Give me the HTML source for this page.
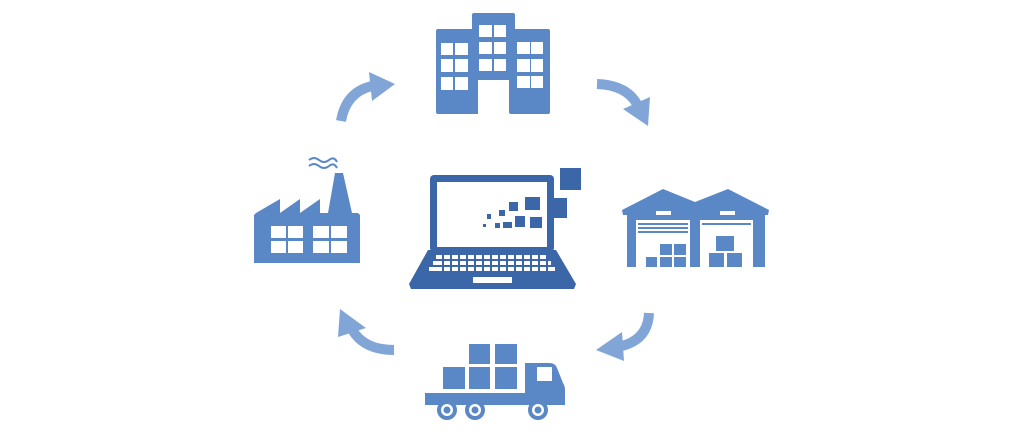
<!DOCTYPE html>
<html><head><meta charset="utf-8"><style>html,body{margin:0;padding:0;background:#fff}svg{display:block}</style></head>
<body>
<svg width="1024" height="435" viewBox="0 0 1024 435" xmlns="http://www.w3.org/2000/svg">
<rect width="1024" height="435" fill="#fff"/>
<!-- arrows -->
<g fill="#82a5d8" stroke="none">
<path d="M341,121 Q346,92 372,86" stroke="#82a5d8" stroke-width="10" fill="none"/>
<polygon points="369,72 395,84 372,101"/>
<path d="M597,84 Q626,85 637,104" stroke="#82a5d8" stroke-width="10" fill="none"/>
<polygon points="623,109 650,97 648,126"/>
<path d="M649,313 Q648,339 622,346" stroke="#82a5d8" stroke-width="10" fill="none"/>
<polygon points="622,332 596,350 624,361"/>
<path d="M394,350 Q365,350 353,331" stroke="#82a5d8" stroke-width="10" fill="none"/>
<polygon points="340,309 338,337 366,328"/>
</g>
<!-- building -->
<g fill="#5a87c6">
<rect x="436" y="29" width="44" height="85" rx="2"/>
<rect x="472" y="13" width="43" height="70" rx="2"/>
<rect x="509" y="29" width="41" height="85" rx="2"/>
<rect x="478" y="60" width="31" height="20"/>
</g>
<g fill="#fff">
<rect x="478" y="80" width="31" height="34"/>
<rect x="441" y="43" width="12" height="12"/><rect x="455" y="43" width="13" height="12"/>
<rect x="441" y="59" width="12" height="13"/><rect x="455" y="59" width="13" height="13"/>
<rect x="441" y="77" width="12" height="13"/><rect x="455" y="77" width="13" height="13"/>
<rect x="479" y="25" width="13" height="12"/><rect x="494" y="25" width="12" height="12"/>
<rect x="479" y="42" width="13" height="12"/><rect x="494" y="42" width="12" height="12"/>
<rect x="479" y="59" width="13" height="12"/><rect x="494" y="59" width="12" height="12"/>
<rect x="517" y="42" width="13" height="12"/><rect x="531" y="42" width="12" height="12"/>
<rect x="517" y="59" width="13" height="13"/><rect x="531" y="59" width="12" height="13"/>
<rect x="517" y="76" width="13" height="12"/><rect x="531" y="76" width="12" height="12"/>
</g>
<!-- laptop -->
<g fill="#3b67a8">
<rect x="430" y="175" width="124" height="77" rx="4"/>
<polygon points="428,250 556,250 576,284 574,289 411,289 409,284"/>
</g>
<rect x="437" y="182" width="110" height="65" fill="#fff"/>
<g fill="#fff">
<rect x="436" y="255" width="112" height="4"/>
<rect x="433" y="261" width="118" height="4"/>
<rect x="429" y="267" width="126" height="4"/>
<rect x="473" y="277" width="39" height="6"/>
</g>
<g stroke="#3b67a8" stroke-width="2">
<path d="M443,254 V272 M451,254 V272 M459,254 V272 M467,254 V272 M475,254 V272 M483,254 V272 M491,254 V272 M499,254 V272 M507,254 V272 M515,254 V272 M523,254 V272 M531,254 V272 M539,254 V272 M547,254 V272"/>
</g>
<g fill="#3b67a8">
<rect x="560" y="168" width="21" height="22"/>
<rect x="547" y="198" width="20" height="20"/>
<rect x="525" y="197" width="15" height="13"/>
<rect x="509" y="202" width="9" height="9"/>
<rect x="499" y="210" width="6" height="6"/>
<rect x="487" y="214" width="4" height="5"/>
<rect x="483" y="224" width="3" height="3"/>
<rect x="495" y="223" width="5" height="5"/>
<rect x="503" y="222" width="9" height="6"/>
<rect x="515" y="216" width="10" height="11"/>
<rect x="530" y="217" width="12" height="11"/>
</g>
<!-- warehouse -->
<g fill="#5a87c6">
<polygon points="622,210 663,189 695,202 728,189 769,210 768,215 623,215"/>
<rect x="627" y="208" width="138" height="59"/>
</g>
<g fill="#fff">
<rect x="636" y="220" width="54" height="47"/>
<rect x="700" y="220" width="53" height="47"/>
<rect x="656" y="211" width="15" height="4"/>
<rect x="720" y="211" width="15" height="4"/>
</g>
<g fill="#5a87c6">
<rect x="638" y="223" width="50" height="2"/><rect x="638" y="227" width="50" height="2"/><rect x="638" y="231" width="50" height="2"/>
<rect x="702" y="223" width="49" height="2"/>
<rect x="646" y="257" width="11" height="10"/><rect x="660" y="257" width="12" height="10"/><rect x="674" y="257" width="12" height="10"/>
<rect x="660" y="244" width="12" height="11"/><rect x="674" y="244" width="12" height="11"/>
<rect x="709" y="253" width="15" height="14"/><rect x="727" y="253" width="15" height="14"/>
<rect x="716" y="236" width="18" height="15"/>
</g>
<!-- truck -->
<g fill="#5a87c6">
<rect x="469" y="344" width="21" height="20"/><rect x="495" y="344" width="22" height="20"/>
<rect x="443" y="367" width="22" height="22"/><rect x="469" y="367" width="21" height="22"/><rect x="495" y="367" width="22" height="22"/>
<rect x="425" y="393" width="105" height="12"/>
<path d="M525,363 H550 Q555,363 557,368 L563,383 Q565,386 565,390 V405 H525 Z"/>
<circle cx="447" cy="410" r="10"/><circle cx="475" cy="410" r="10"/><circle cx="538" cy="410" r="10"/>
</g>
<g fill="#fff"><rect x="537" y="367" width="15" height="14"/>
<circle cx="447" cy="410" r="6"/><circle cx="475" cy="410" r="6"/><circle cx="538" cy="410" r="6"/></g>
<g fill="#5a87c6"><circle cx="447" cy="410" r="3.5"/><circle cx="475" cy="410" r="3.5"/><circle cx="538" cy="410" r="3.5"/></g>
<!-- factory -->
<g fill="#5a87c6">
<polygon points="256,213 280,199 280,213 300,199 300,213 320,199 320,213 328,213 335,173 343,173 352,213 358,213 360,215 360,263 254,263 254,215"/>
</g>
<g fill="none" stroke="#5a87c6" stroke-width="2">
<path d="M309,160 q5,-4 10,0 t10,0 t8,2"/>
<path d="M309,166 q5,-4 10,0 t10,0 t8,2"/>
</g>
<g fill="#fff">
<rect x="271" y="226" width="15" height="12"/><rect x="288" y="226" width="15" height="12"/>
<rect x="271" y="241" width="15" height="12"/><rect x="288" y="241" width="15" height="12"/>
<rect x="313" y="226" width="16" height="12"/><rect x="331" y="226" width="16" height="12"/>
<rect x="313" y="241" width="16" height="12"/><rect x="331" y="241" width="16" height="12"/>
</g>
</svg>
</body></html>
